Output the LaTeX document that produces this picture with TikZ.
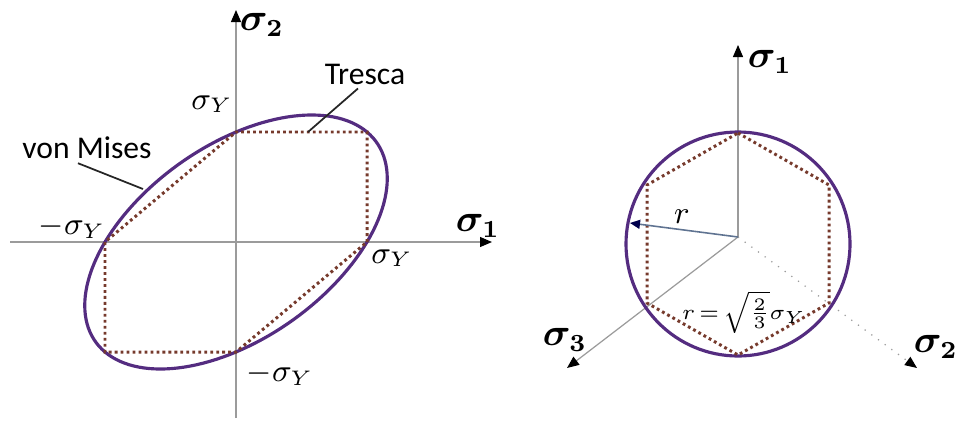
\documentclass[tikz,border=0pt]{standalone}
\usepackage{amsmath,amssymb,bm}
\usepackage{fontspec}
\setmainfont{Carlito}
\usetikzlibrary{arrows.meta,positioning}
\definecolor{vmpurple}{RGB}{84,44,128}
\definecolor{trbrown}{RGB}{118,58,44}
\definecolor{axgray}{RGB}{155,155,155}
\definecolor{rblue}{RGB}{95,115,145}
\tikzset{
  axis/.style={draw=axgray, line width=0.35pt},
  axarr/.style={axis, -{Triangle[length=1.2mm, width=1mm, color=black]}},
  vm/.style={draw=vmpurple, line width=0.9pt},
  tresca/.style={draw=trbrown, line width=0.85pt, dash pattern=on 0.8pt off 0.9pt},
  lead/.style={draw=black!85, line width=0.5pt},
  rarr/.style={draw=rblue, line width=0.45pt, -{Triangle[length=1mm, width=0.9mm, color=black!70!blue]}},
  axlbl/.style={font=\fontsize{10.5}{12}\selectfont, inner sep=1pt},
  vallbl/.style={font=\small, inner sep=1pt},
  txtlbl/.style={font=\fontsize{9}{11}\selectfont, inner sep=1pt}
}
\begin{document}
\begin{tikzpicture}
\useasboundingbox (0,0) rectangle (9.56,4.21);
% plane stress: sigma_1 -- sigma_2
\coordinate (O) at (2.36,1.79);
\coordinate (h0) at (0.10,1.79); \coordinate (h1) at (4.92,1.79);
\coordinate (v0) at (2.36,0.03); \coordinate (v1) at (2.36,4.11);
\draw[axis] (h0) -- (O); \draw[axarr] (O) -- (h1);
\draw[axis] (v0) -- (O); \draw[axarr] (O) -- (v1);

\draw[vm, shift={(O)}, xscale=1.31, yscale=1.10]
  plot[domain=0:360, samples=145] ({cos(\x)+sin(\x)/sqrt(3)}, {cos(\x)-sin(\x)/sqrt(3)});
\coordinate (t1) at (3.67,1.79); \coordinate (t2) at (3.67,2.89);
\coordinate (t3) at (2.36,2.89); \coordinate (t4) at (1.05,1.79);
\coordinate (t5) at (1.05,0.69); \coordinate (t6) at (2.36,0.69);
\draw[tresca] (t1) -- (t2) -- (t3) -- (t4) -- (t5) -- (t6) -- cycle;

\node[axlbl] (s2a) at (2.62,3.96) {$\boldsymbol{\sigma_2}$};
\node[axlbl] (s1a) at (4.78,1.95) {$\boldsymbol{\sigma_1}$};
\node[vallbl] (syt) at (2.12,3.17) {$\sigma_Y$};
\node[vallbl] (syr) at (3.92,1.63) {$\sigma_Y$};
\node[vallbl] (myl) at (0.72,1.94) {$-\sigma_Y$};
\node[vallbl] (myb) at (2.80,0.47) {$-\sigma_Y$};
\node[txtlbl] (tres) at (3.65,3.47) {Tresca};
\node[txtlbl] (vmis) at (0.87,2.73) {von Mises};
\coordinate (trpt) at (3.08,2.89);
\coordinate (vmpt) at (1.43,2.32);
\draw[lead] ([xshift=-0.7mm]tres.south) -- (trpt);
\draw[lead] ([xshift=-0.9mm]vmis.south) -- (vmpt);

% deviatoric plane
\coordinate (P) at (7.38,1.84);
\coordinate (C) at (7.38,1.77);
\coordinate (e1) at (7.38,3.76);
\coordinate (e2) at (9.17,0.53);
\coordinate (e3) at (5.67,0.53);
\draw[axarr] (P) -- (e1);
\draw[axarr] (P) -- (e3);
\draw[axarr, dotted] (P) -- (e2);

\draw[vm] (C) circle (1.12);
\draw[tresca] (7.38,2.88) -- (8.29,2.36) -- (8.29,1.18) -- (7.38,0.66)
  -- (6.47,1.18) -- (6.47,2.36) -- cycle;
\coordinate (rtip) at (6.30,1.98);
\draw[rarr] (P) -- (rtip);

\node[axlbl] (s1b) at (7.70,3.59) {$\boldsymbol{\sigma_1}$};
\node[axlbl] (s3b) at (5.65,0.81) {$\boldsymbol{\sigma_3}$};
\node[axlbl] (s2b) at (9.36,0.74) {$\boldsymbol{\sigma_2}$};
\node[vallbl] (rl) at (6.82,2.04) {$r$};
\node[font=\fontsize{6.5}{8}\selectfont, inner sep=1pt] (req) at (7.44,1.09)
  {\thickmuskip=3mu $r=\sqrt{\tfrac{2}{3}}\sigma_Y$};
\end{tikzpicture}
\end{document}
